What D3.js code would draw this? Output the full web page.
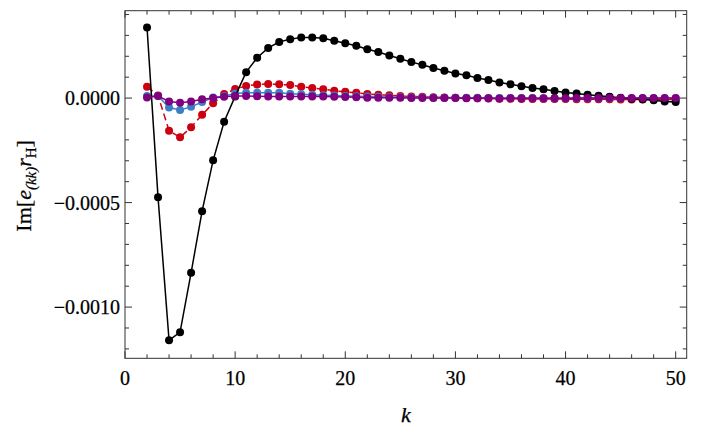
<!DOCTYPE html>
<html>
<head>
<meta charset="utf-8">
<script src="https://cdn.jsdelivr.net/npm/d3@7"></script>
<style>
  body { margin: 0; background: #fff; }
  text { font-family: "Liberation Serif", "Times New Roman", serif; fill: #000; stroke: #000; stroke-width: 0.25px; }
</style>
</head>
<body>
<div id="chart"></div>
<script>
// k = 2 .. 50
let kValues = d3.range(2, 51);

let blackVals = [0.000338, -0.000475, -0.001159, -0.00112, -0.000836, -0.000541, -0.000298, -0.000113, 0.000008,
  0.000124, 0.000193, 0.00024, 0.000268, 0.000282, 0.00029, 0.00029, 0.000286, 0.000274, 0.000262,
  0.00025, 0.000234, 0.00022, 0.000204, 0.000188, 0.000172, 0.000159, 0.000144, 0.000131, 0.000118,
  0.000109, 0.000096, 0.000086, 0.000075, 0.000066, 0.000057, 0.000048, 0.000042, 0.000034, 0.000027,
  0.000022, 0.000016, 0.000011, 0.000006, 0.000001, -0.000003, -0.000006, -0.000011, -0.000016, -0.000019];

let redVals = [0.000054, 0.000012, -0.000156, -0.000188, -0.00014, -0.00008, -0.000025, 0.000019, 0.000043,
  0.000058, 0.000065, 0.000067, 0.000066, 0.000062, 0.000054, 0.000048, 0.000042, 0.000035, 0.00003,
  0.000025, 0.00002, 0.000016, 0.000013, 0.00001, 0.000008, 0.000006, 0.000004, 0.000003, 0.000001,
  0.0, -0.000001, -0.000002, -0.000003, -0.000003, -0.000004, -0.000004, -0.000005, -0.000005, -0.000005,
  -0.000006, -0.000006, -0.000006, -0.000006, -0.000007, -0.000007, -0.000007, -0.000007, -0.000007, -0.000007];

let blueVals = [0.00001, 0.00001, -0.000045, -0.000057, -0.000042, -0.000019, 0.000003, 0.00001, 0.000022,
  0.000025, 0.000026, 0.000026, 0.000025, 0.000021, 0.000018, 0.000016, 0.000014, 0.000012, 0.00001,
  0.000009, 0.000007, 0.000006, 0.000005, 0.000004, 0.000003, 0.000003, 0.000002, 0.000002, 0.000001,
  0.000001, 0.000001, 0.0, 0.0, 0.0, 0.0, 0.0, -0.000001, -0.000001, -0.000001,
  -0.000001, -0.000001, -0.000001, -0.000001, -0.000001, -0.000001, -0.000001, -0.000001, -0.000001, -0.000001];

let purpleVals = [0.000003, 0.00001, -0.000016, -0.000022, -0.000016, -0.000006, 0.0, 0.000006, 0.00001,
  0.00001, 0.000009, 0.000008, 0.000008, 0.000008, 0.000008, 0.000007, 0.000007, 0.000006, 0.000005,
  0.000004, 0.000002, 0.000002, 0.000001, 0.000001, 0.0, 0.0, 0.0, 0.0, 0.0,
  -0.000001, -0.000001, -0.000001, -0.000002, -0.000001, -0.000001, -0.000001, -0.000001, -0.000001, -0.000001,
  0.0, 0.0, 0.0, 0.0, 0.0, 0.0, 0.0, 0.0, 0.0, 0.0];

let xMajorTicks = [0, 10, 20, 30, 40, 50];
let yMajorTicks = [-0.001, -0.0005, 0];
let yTickLabels = ["\u22120.0010", "\u22120.0005", "0.0000"];

let width = 709, height = 432;
let margin = {top: 10.7, left: 125, right: 22.3, bottom: 73.7};
let w = width - margin.left - margin.right, h = height - margin.top - margin.bottom;

let x = d3.scaleLinear().domain([0, 51]).range([0, w]);
let y = d3.scaleLinear().domain([-0.001245, 0.000418]).range([h, 0]);

let svg = d3.select('#chart').append('svg').attr('width', width).attr('height', height)
  .append('g').attr('transform', 'translate(' + margin.left + ',' + margin.top + ')');

// ticks, all pointing inward
let xMinor = d3.range(0, 52, 2).filter((d) => d % 10 != 0);
let yMinor = d3.range(-12, 5).map((d) => d * 0.0001).filter((d) => Math.abs(d / 0.0005 - Math.round(d / 0.0005)) > 1e-6);

function drawTicks(g, vals, len, isX) {
  vals.forEach(function(v){
    if (isX) {
      g.append('line').attr('x1', x(v)).attr('x2', x(v)).attr('y1', h).attr('y2', h - len);
      g.append('line').attr('x1', x(v)).attr('x2', x(v)).attr('y1', 0).attr('y2', len);
    } else {
      g.append('line').attr('y1', y(v)).attr('y2', y(v)).attr('x1', 0).attr('x2', len);
      g.append('line').attr('y1', y(v)).attr('y2', y(v)).attr('x1', w).attr('x2', w - len);
    }
  });
}
let tickG = svg.append('g').attr('stroke', '#333').attr('stroke-width', 1);
drawTicks(tickG, xMajorTicks, 7, true);
drawTicks(tickG, xMinor, 4, true);
drawTicks(tickG, yMajorTicks, 7, false);
drawTicks(tickG, yMinor, 4, false);

svg.append('rect').attr('width', w).attr('height', h).attr('fill', 'none').attr('stroke', '#333').attr('stroke-width', 1);

// tick labels
svg.selectAll('.xlab').data(xMajorTicks).enter().append('text')
  .attr('class', 'xlab').attr('x', (d) => x(d)).attr('y', h + 27)
  .attr('text-anchor', 'middle').attr('font-size', 20).text((d) => d);
svg.selectAll('.ylab').data(yMajorTicks).enter().append('text')
  .attr('class', 'ylab').attr('x', -5).attr('y', (d) => y(d)).attr('dy', '0.35em')
  .attr('text-anchor', 'end').attr('font-size', 20).text((d, i) => yTickLabels[i]);

// axis titles
svg.append('text').attr('x', x(25.5)).attr('y', h + 64).attr('text-anchor', 'middle')
  .attr('font-size', 22).attr('font-style', 'italic').text('k');

let yt = svg.append('text').attr('transform', 'translate(' + (-94) + ',' + (y(-0.00042)) + ') rotate(-90)')
  .attr('text-anchor', 'middle').attr('font-size', 22);
yt.append('tspan').text('Im[');
yt.append('tspan').attr('font-style', 'italic').text('e');
yt.append('tspan').attr('dy', 5).attr('font-size', 15).attr('font-style', 'italic').text('(kk)');
yt.append('tspan').attr('dy', -5).attr('font-style', 'italic').text('r');
yt.append('tspan').attr('dy', 5).attr('font-size', 15).text('H');
yt.append('tspan').attr('dy', -5).text(']');

// series
let line = d3.line().x((d, i) => x(kValues[i])).y((d) => y(d));
let series = [
  {vals: redVals, color: '#cc0010', dash: '7,4'},
  {vals: blueVals, color: '#3a7fc6', dash: null},
  {vals: blackVals, color: '#000000', dash: null},
  {vals: purpleVals, color: '#800080', dash: null}
];
series.forEach(function(s){
  svg.append('path').datum(s.vals).attr('d', line).attr('fill', 'none')
    .attr('stroke', s.color).attr('stroke-width', 1.5).attr('stroke-dasharray', s.dash);
  svg.selectAll(null).data(s.vals).enter().append('circle')
    .attr('cx', (d, i) => x(kValues[i])).attr('cy', (d) => y(d)).attr('r', 4).attr('fill', s.color);
});
</script>
</body>
</html>
